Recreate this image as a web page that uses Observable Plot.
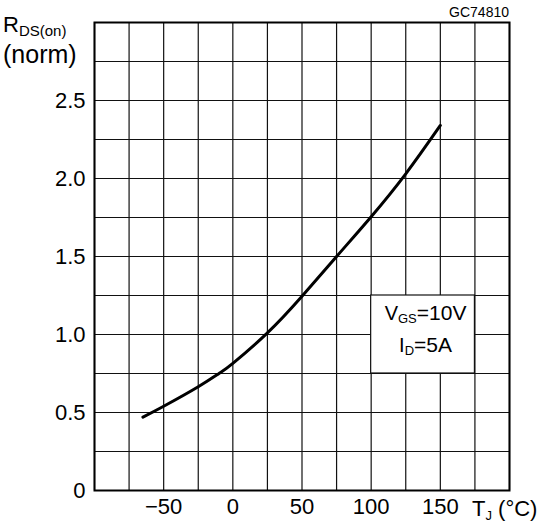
<!DOCTYPE html>
<html><head><meta charset="utf-8">
<script src="https://cdn.jsdelivr.net/npm/d3@7"></script>
<script src="https://cdn.jsdelivr.net/npm/@observablehq/plot@0.6"></script>
<style>
html,body{margin:0;padding:0;background:#fff;}
svg text{font-family:"Liberation Sans",Arial,sans-serif;}
</style></head><body><div id="chart"></div>
<script>
// Curve: normalized on-resistance vs junction temperature
const tempC   = [-65, -50, -25, -10, 0, 25, 50, 75, 100, 125, 150];
const rdsNorm = [0.47, 0.54, 0.665, 0.75, 0.815, 1.01, 1.245, 1.5, 1.755, 2.03, 2.34];
// Grid and tick labels
const xGrid = [-100, -75, -50, -25, 0, 25, 50, 75, 100, 125, 150, 175, 200];
const yGrid = [0, 0.25, 0.5, 0.75, 1, 1.25, 1.5, 1.75, 2, 2.25, 2.5, 2.75, 3];
const xTickLabels = [-50, 0, 50, 100, 150];
const yTickLabels = [0, 0.5, 1, 1.5, 2, 2.5];
// Condition annotation box (data units)
const noteBoxX = [100, 175];
const noteBoxY = [0.75, 1.25];
const noteLines = [["V", "GS", "=10V"], ["I", "D", "=5A"]];
const figureCode = "GC74810";

const data = tempC.map((t, i) => ({t, r: rdsNorm[i]}));
const box = [{x1: noteBoxX[0], x2: noteBoxX[1], y1: noteBoxY[0], y2: noteBoxY[1]}];

const plot = Plot.plot({
  width: 547, height: 530,
  marginLeft: 94, marginRight: 38, marginTop: 22, marginBottom: 40,
  x: {domain: [-100, 200]},
  y: {domain: [0, 3]},
  style: {background: "white", color: "black", fontFamily: "'Liberation Sans', Arial, sans-serif"},
  marks: [
    Plot.ruleX(xGrid, {stroke: "#111", strokeWidth: 1.2}),
    Plot.ruleY(yGrid, {stroke: "#111", strokeWidth: 1.2}),
    Plot.rect(box, {x1: "x1", x2: "x2", y1: "y1", y2: "y2", fill: "white", stroke: "#111", strokeWidth: 1.2}),
    Plot.frame({stroke: "black", strokeWidth: 2}),
    Plot.line(data, {x: "t", y: "r", curve: "natural", stroke: "black", strokeWidth: 3}),
    Plot.axisX(xTickLabels, {tickSize: 0, tickPadding: 8, label: null, fontSize: 22,
      tickFormat: d => d < 0 ? "\u2212" + Math.abs(d) : String(d)}),
    Plot.axisY(yTickLabels, {tickSize: 0, tickPadding: 9, label: null, fontSize: 22,
      tickFormat: d => d === 0 ? "0" : d.toFixed(1)})
  ]
});
document.getElementById("chart").appendChild(plot);

const svg = d3.select(plot);
const xs = plot.scale("x"), ys = plot.scale("y");
const g = svg.append("g").attr("fill", "black").attr("text-anchor", "start");

// Y axis label
const t1 = g.append("text").attr("x", 3).attr("y", 32).attr("text-anchor", "start");
t1.append("tspan").attr("font-size", 22).text("R");
t1.append("tspan").attr("font-size", 15).attr("dy", 4).text("DS(on)");
g.append("text").attr("x", 3).attr("y", 63).attr("font-size", 25).attr("text-anchor", "start").text("(norm)");

// Figure code
g.append("text").attr("x", 509).attr("y", 17).attr("font-size", 14)
  .attr("text-anchor", "end").text(figureCode);

// X axis label
const t2 = g.append("text").attr("x", 472).attr("y", 516).attr("text-anchor", "start");
t2.append("tspan").attr("font-size", 22).text("T");
t2.append("tspan").attr("font-size", 13).attr("dy", 4).text("J");
t2.append("tspan").attr("font-size", 22).attr("dy", -4).text(" (\u00B0C)");

// Conditions
const cx = (xs.apply(noteBoxX[0]) + xs.apply(noteBoxX[1])) / 2 + 3;
const cy = (ys.apply(noteBoxY[0]) + ys.apply(noteBoxY[1])) / 2;
noteLines.forEach((ln, i) => {
  const t = g.append("text").attr("x", cx).attr("y", cy - 14 + i * 32).attr("text-anchor", "middle");
  t.append("tspan").attr("font-size", 20).text(ln[0]);
  t.append("tspan").attr("font-size", 13).attr("dy", 3).text(ln[1]);
  t.append("tspan").attr("font-size", 21).attr("dy", -3).text(ln[2]);
});
</script></body></html>
